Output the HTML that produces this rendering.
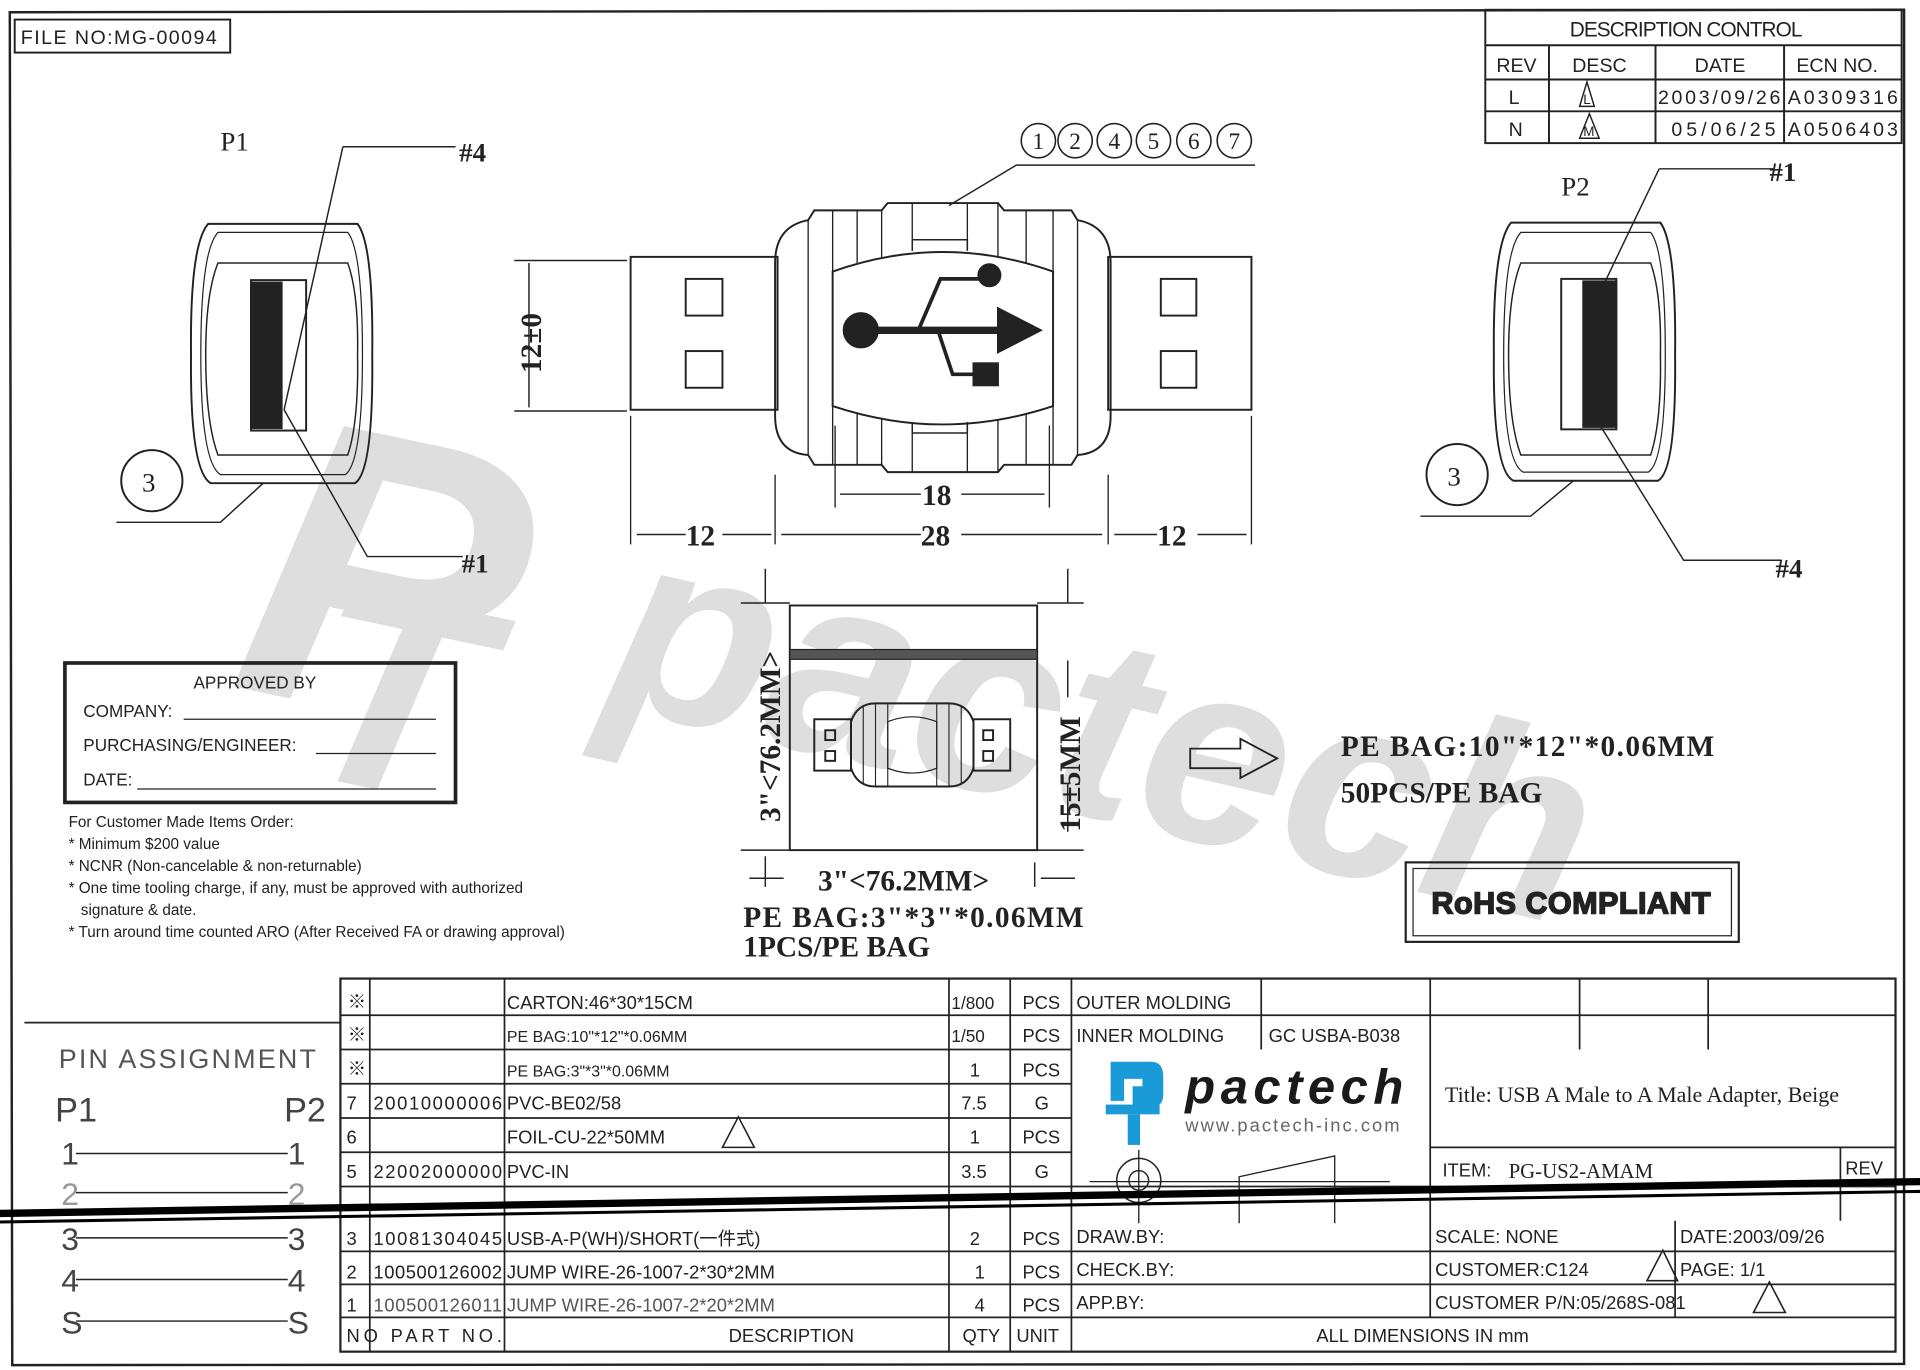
<!DOCTYPE html>
<html><head><meta charset="utf-8"><style>
html,body{margin:0;padding:0;background:#fff;width:1920px;height:1370px;overflow:hidden}
svg{display:block}
.t{font-family:"Liberation Sans Narrow","Liberation Sans","Noto Sans CJK SC",sans-serif;fill:#222}
.s{font-family:"Liberation Serif",serif;fill:#222}
.a{font-family:"Liberation Sans",sans-serif;fill:#222}
</style></head><body>
<svg width="1920" height="1370" viewBox="0 0 1568 1120" preserveAspectRatio="none" xmlns="http://www.w3.org/2000/svg">
<rect width="1568" height="1120" fill="#fff"/>
<!-- watermark -->
<g fill="#dedede" font-family="Liberation Sans,sans-serif" font-weight="bold" font-style="italic">
<text x="0" y="0" font-size="330" transform="translate(185,560) rotate(12)">P</text>
<text x="0" y="0" font-size="230" transform="translate(235,630) rotate(12)">T</text>
<text x="0" y="0" font-size="215" transform="translate(490,575) rotate(13)">pactech</text>
</g>
<g stroke="#222" fill="none" stroke-width="1.6">
<path d="M8,10 L1555,8 L1555,1115 L10,1116 Z" stroke-width="2"/>
<rect x="12" y="16" width="176" height="27"/>
<rect x="1213" y="8" width="340" height="109"/>
<path d="M1213,37H1553M1213,65H1553M1213,91H1553M1265,37V117M1352,37V117M1457,37V117"/>
<path d="M1302,87 L1290,87 L1296,67 Z M1306,113 L1290,113 L1298,93 Z" stroke-width="1.2"/>
<path d="M170,183 H292 Q305,200 304,290 Q305,385 290,395 H172 Q155,385 156,290 Q155,200 170,183 Z"/>
<path d="M178,190 H284 Q296,205 296,290 Q296,378 282,388 H180 Q164,378 164,290 Q164,205 178,190Z" stroke-width="1"/>
<path d="M178,215 H284 Q293,240 292,290 Q293,345 284,372 H178 Q168,345 168,290 Q168,240 178,215Z" stroke-width="1.2"/>
<rect x="205" y="229" width="45" height="123"/>
<rect x="205" y="231" width="25" height="119" fill="#222"/>
<path d="M280,120 H372 M280,120 L232,335 M232,335 L300,455 H378" stroke-width="1.2"/>
<circle cx="124" cy="393" r="25"/>
<path d="M215,395 L180,427 H95" stroke-width="1.2"/>
<path d="M1234,182 H1356 Q1369,200 1368,290 Q1369,385 1354,393 H1236 Q1219,385 1220,290 Q1219,200 1234,182 Z"/>
<path d="M1242,190 H1348 Q1360,205 1360,290 Q1360,378 1346,386 H1244 Q1228,378 1228,290 Q1228,205 1242,190Z" stroke-width="1"/>
<path d="M1242,215 H1348 Q1357,240 1356,290 Q1357,345 1348,372 H1242 Q1232,345 1232,290 Q1232,240 1242,215Z" stroke-width="1.2"/>
<rect x="1275" y="228" width="45" height="123"/>
<rect x="1293" y="230" width="27" height="119" fill="#222"/>
<path d="M1355,138 H1448 M1355,138 L1310,232 M1305,345 L1375,458 H1455" stroke-width="1.2"/>
<circle cx="1190" cy="388" r="25"/>
<path d="M1285,393 L1250,422 H1160" stroke-width="1.2"/>
<rect x="515" y="210" width="120" height="125"/>
<rect x="560" y="228" width="30" height="30"/><rect x="560" y="287" width="30" height="30"/>
<rect x="905" y="210" width="117" height="125"/>
<rect x="948" y="228" width="29" height="30"/><rect x="948" y="287" width="29" height="30"/>
<path d="M633,215 Q633,185 660,180 L665,172 H720 L725,166 H815 L820,172 H875 L880,180 Q907,185 907,215 V340 Q907,370 880,372 L875,380 H820 L815,386 H725 L720,380 H665 L660,372 Q633,370 633,340 Z"/>
<path d="M660,180 V372 M680,172 V380 M700,172 V380 M720,172 V380 M745,166 V205 M745,345 V386 M790,166 V205 M790,345 V386 M815,166 V386 M838,172 V380 M860,172 V380 M880,180 V372" stroke-width="1.1"/>
<path d="M680,222 Q770,190 860,222 L860,332 Q770,362 680,332 Z" fill="#fff"/>
<path d="M745,205 V196 H790 V205 M745,345 V354 H790 V345" stroke-width="1.2"/>
<path d="M703,270 H822" stroke-width="6"/>
<circle cx="703" cy="270" r="14" fill="#222"/>
<path d="M815,252 L850,270 L815,288 Z" fill="#222"/>
<path d="M750,270 L768,228 H803" stroke-width="3"/>
<circle cx="808" cy="225" r="9" fill="#222"/>
<path d="M766,270 L778,306 H798" stroke-width="3"/>
<rect x="795" y="297" width="20" height="18" fill="#222"/>
<g stroke-width="1.3">
<circle cx="848" cy="115" r="14"/><circle cx="878" cy="115" r="14"/><circle cx="910" cy="115" r="14"/><circle cx="942" cy="115" r="14"/><circle cx="975" cy="115" r="14"/><circle cx="1008" cy="115" r="14"/>
</g>
<path d="M830,135 H1025 M830,135 L775,168" stroke-width="1.2"/>
<path d="M432,215 V333 M420,213 H512 M420,336 H512" stroke-width="1.2"/>
<path d="M515,340 V445 M633,388 V445 M905,388 V445 M1022,340 V445 M682,348 V415 M857,348 V415" stroke-width="1.1"/>
<path d="M520,437 H560 M590,437 H630 M638,437 H752 M785,437 H900 M910,437 H945 M978,437 H1018 M686,404 H752 M785,404 H853" stroke-width="1.2"/>
<rect x="645" y="495" width="202" height="200"/>
<rect x="645" y="531" width="202" height="8" stroke-width="1" fill="#555"/>
<path d="M605,493 H645 M847,493 H885 M605,695 H645 M847,695 H885 M625,465 V493 M872,465 V493 M625,700 V725 M845,705 V725 M612,718 H640 M850,718 H878 M872,540 V570 M872,640 V680" stroke-width="1.2"/>
<rect x="665" y="588" width="30" height="42"/><rect x="795" y="588" width="30" height="42"/>
<path d="M695,590 Q700,575 715,575 H775 Q790,575 795,590 V628 Q790,643 775,643 H715 Q700,643 695,628 Z"/>
<path d="M705,578 V640 M715,575 V643 M725,575 V643 M765,575 V643 M775,575 V643 M785,578 V640" stroke-width="0.9"/>
<path d="M725,590 Q745,582 765,590 V628 Q745,636 725,628Z" stroke-width="1"/>
<rect x="674" y="597" width="8" height="8"/><rect x="674" y="614" width="8" height="8"/><rect x="803" y="597" width="8" height="8"/><rect x="803" y="614" width="8" height="8"/>
<path d="M972,612 H1013 V604 L1043,620 L1013,636 V628 H972 Z" stroke-width="1.5"/>
<rect x="1148" y="705" width="272" height="65" stroke-width="1.8"/>
<rect x="1154" y="710" width="260" height="55" stroke-width="1"/>
<rect x="53" y="542" width="319" height="114" stroke-width="3"/>
<path d="M150,588 H356 M258,616 H356 M112,645 H356" stroke-width="1"/>
<path d="M20,836 H278" stroke-width="1.5"/>
<rect x="278" y="800" width="1270" height="305" stroke-width="1.8"/>
<path d="M278,830 H1548 M278,858 H875 M278,886 H875 M278,914 H875 M278,942 H875 M1168,938 H1548 M278,970 H1548 M278,1023 H1548 M278,1050 H1548 M278,1077 H1548" stroke-width="1.4"/>
<path d="M302,800 V1105 M412,800 V1105 M775,800 V1105 M825,800 V1105 M875,800 V1105 M1030,800 V858 M1168,800 V1077 M1290,800 V858 M1395,800 V858 M1368,998 V1077 M1503,938 V998" stroke-width="1.4"/>
<circle cx="930" cy="965" r="18" stroke-width="1.2"/><circle cx="930" cy="965" r="8" stroke-width="1.2"/>
<path d="M930,940 V1000 M890,966 H1135 M1012,1000 V962 L1090,945 V1000" stroke-width="1.1"/>
<path d="M1345,1047 L1358,1022 L1370,1047 Z M1432,1073 L1445,1048 L1458,1073 Z M590,938 L603,913 L616,938 Z" stroke-width="1.3"/>
<path d="M62,943 H235 M62,975 H235 M62,1012 H235 M62,1046 H235 M62,1080 H235" stroke-width="1.2"/>
</g>
<path d="M0,992 L1568,966" stroke="#000" stroke-width="6"/>
<path d="M0,999 L1568,974" stroke="#000" stroke-width="2.5"/>
<g class="t">
<text x="17" y="36" font-size="16" textLength="160">FILE NO:MG-00094</text>
<text x="1282" y="30" font-size="17" textLength="190">DESCRIPTION CONTROL</text>
<text x="1222" y="59" font-size="16">REV</text><text x="1284" y="59" font-size="16">DESC</text><text x="1384" y="59" font-size="16">DATE</text><text x="1467" y="59" font-size="16">ECN NO.</text>
<text x="1232" y="85" font-size="16">L</text><text x="1354" y="85" font-size="16" textLength="100">2003/09/26</text><text x="1460" y="85" font-size="16" textLength="90">A0309316</text>
<text x="1232" y="111" font-size="16">N</text><text x="1365" y="111" font-size="16" textLength="85">05/06/25</text><text x="1460" y="111" font-size="16" textLength="90">A0506403</text>
<text x="1293" y="85" font-size="11">L</text><text x="1293" y="111" font-size="11">M</text>
</g>
<g class="s" font-size="22">
<text x="180" y="123">P1</text><text x="1275" y="160">P2</text>
<text x="375" y="132" font-weight="bold">#4</text><text x="377" y="468" font-weight="bold">#1</text>
<text x="1445" y="148" font-weight="bold">#1</text><text x="1450" y="472" font-weight="bold">#4</text>
<text x="116" y="402">3</text><text x="1182" y="397">3</text>
</g>
<g class="s" font-size="19" text-anchor="middle">
<text x="848" y="122">1</text><text x="878" y="122">2</text><text x="910" y="122">4</text><text x="942" y="122">5</text><text x="975" y="122">6</text><text x="1008" y="122">7</text>
</g>
<g class="s" font-size="24" font-weight="bold">
<text x="0" y="0" transform="translate(442,305) rotate(-90)">12±0</text>
<text x="560" y="446">12</text><text x="752" y="446">28</text><text x="945" y="446">12</text><text x="753" y="413">18</text>
<text x="0" y="0" transform="translate(637,672) rotate(-90)">3"&lt;76.2MM&gt;</text>
<text x="0" y="0" transform="translate(882,680) rotate(-90)">15±5MM</text>
<text x="668" y="728">3"&lt;76.2MM&gt;</text>
<text x="607" y="758" textLength="278">PE BAG:3"*3"*0.06MM</text>
<text x="607" y="782">1PCS/PE BAG</text>
<text x="1095" y="618" textLength="305">PE BAG:10"*12"*0.06MM</text>
<text x="1095" y="656">50PCS/PE BAG</text>
</g>
<text x="1169" y="747" class="a" font-size="25" font-weight="bold" fill="#fff" stroke="#222" stroke-width="1.2" textLength="228">RoHS COMPLIANT</text>
<g class="a" font-size="14">
<text x="158" y="563">APPROVED BY</text>
<text x="68" y="586">COMPANY:</text>
<text x="68" y="614">PURCHASING/ENGINEER:</text>
<text x="68" y="642">DATE:</text>
</g>
<g class="a" font-size="12.5">
<text x="56" y="676">For Customer Made Items Order:</text>
<text x="56" y="694">* Minimum $200 value</text>
<text x="56" y="712">* NCNR (Non-cancelable &amp; non-returnable)</text>
<text x="56" y="730">* One time tooling charge, if any, must be approved with authorized</text>
<text x="66" y="748">signature &amp; date.</text>
<text x="56" y="766">* Turn around time counted ARO (After Received FA or drawing approval)</text>
</g>
<g class="t" font-size="22" fill="#555">
<text x="48" y="873" textLength="210" fill="#555">PIN ASSIGNMENT</text>
<text x="45" y="917" font-size="28" fill="#444">P1</text><text x="232" y="917" font-size="28" fill="#444">P2</text>
<text x="50" y="952" font-size="26" fill="#444">1</text><text x="235" y="952" font-size="26" fill="#444">1</text>
<text x="50" y="985" font-size="26" fill="#999">2</text><text x="235" y="985" font-size="26" fill="#999">2</text>
<text x="50" y="1022" font-size="26" fill="#444">3</text><text x="235" y="1022" font-size="26" fill="#444">3</text>
<text x="50" y="1056" font-size="26" fill="#444">4</text><text x="235" y="1056" font-size="26" fill="#444">4</text>
<text x="50" y="1090" font-size="26" fill="#444">S</text><text x="235" y="1090" font-size="26" fill="#444">S</text>
</g>
<g class="t" font-size="15">
<text x="284" y="824">※</text><text x="284" y="851">※</text><text x="284" y="879">※</text>
<text x="283" y="907">7</text><text x="283" y="935">6</text><text x="283" y="963">5</text><text x="283" y="1018">3</text><text x="283" y="1045">2</text><text x="283" y="1072">1</text>
<text x="283" y="1097" textLength="127">NO PART NO.</text>
<text x="305" y="907" textLength="105">20010000006</text>
<text x="305" y="963" textLength="105">22002000000</text>
<text x="305" y="1018" textLength="105">10081304045</text>
<text x="305" y="1045" textLength="105">100500126002</text>
<text x="305" y="1072" textLength="105" fill="#555">100500126011</text>
<text x="414" y="825">CARTON:46*30*15CM</text>
<text x="414" y="852" font-size="13">PE BAG:10"*12"*0.06MM</text>
<text x="414" y="880" font-size="13">PE BAG:3"*3"*0.06MM</text>
<text x="414" y="907">PVC-BE02/58</text>
<text x="414" y="935">FOIL-CU-22*50MM</text>
<text x="414" y="963">PVC-IN</text>
<text x="414" y="1018">USB-A-P(WH)/SHORT(一件式)</text>
<text x="414" y="1045">JUMP WIRE-26-1007-2*30*2MM</text>
<text x="414" y="1072" fill="#555">JUMP WIRE-26-1007-2*20*2MM</text>
<text x="595" y="1097">DESCRIPTION</text>
<text x="777" y="825" font-size="14">1/800</text><text x="777" y="852" font-size="14">1/50</text>
<text x="792" y="880">1</text><text x="785" y="907">7.5</text><text x="792" y="935">1</text><text x="785" y="963">3.5</text><text x="792" y="1018">2</text><text x="796" y="1045">1</text><text x="796" y="1072">4</text>
<text x="786" y="1097">QTY</text>
<text x="835" y="825">PCS</text><text x="835" y="852">PCS</text><text x="835" y="880">PCS</text><text x="845" y="907">G</text><text x="835" y="935">PCS</text><text x="845" y="963">G</text><text x="835" y="1018">PCS</text><text x="835" y="1045">PCS</text><text x="835" y="1072">PCS</text><text x="830" y="1097">UNIT</text>
<text x="879" y="825">OUTER MOLDING</text><text x="879" y="852">INNER MOLDING</text><text x="1036" y="852">GC USBA-B038</text>
<text x="879" y="1016">DRAW.BY:</text><text x="879" y="1043">CHECK.BY:</text><text x="879" y="1070">APP.BY:</text>
<text x="1075" y="1097">ALL DIMENSIONS IN mm</text>
<text x="1172" y="1016">SCALE: NONE</text><text x="1372" y="1016">DATE:2003/09/26</text>
<text x="1172" y="1043">CUSTOMER:C124</text><text x="1372" y="1043">PAGE: 1/1</text>
<text x="1172" y="1070">CUSTOMER P/N:05/268S-081</text>
<text x="1178" y="962">ITEM:</text><text x="1507" y="960">REV</text>
</g>
<text x="1232" y="963" class="s" font-size="17">PG-US2-AMAM</text>
<text x="1180" y="901" class="s" font-size="18">Title:  USB A Male to A Male Adapter, Beige</text>
<g fill="#1a9ad6">
<path d="M907,868 H940 Q950,868 950,880 V895 Q950,905 940,905 H925 V888 H933 V882 H918 V900 H907 Z"/>
<rect x="903" y="903" width="44" height="8"/>
<rect x="921" y="911" width="10" height="25"/>
</g>
<text x="968" y="902" font-family="Liberation Sans,sans-serif" font-weight="bold" font-style="italic" font-size="40" fill="#1a1a1a" textLength="178">pactech</text>
<text x="968" y="925" font-family="Liberation Sans,sans-serif" font-size="15" fill="#666" textLength="175">www.pactech-inc.com</text>
</svg>
</body></html>
